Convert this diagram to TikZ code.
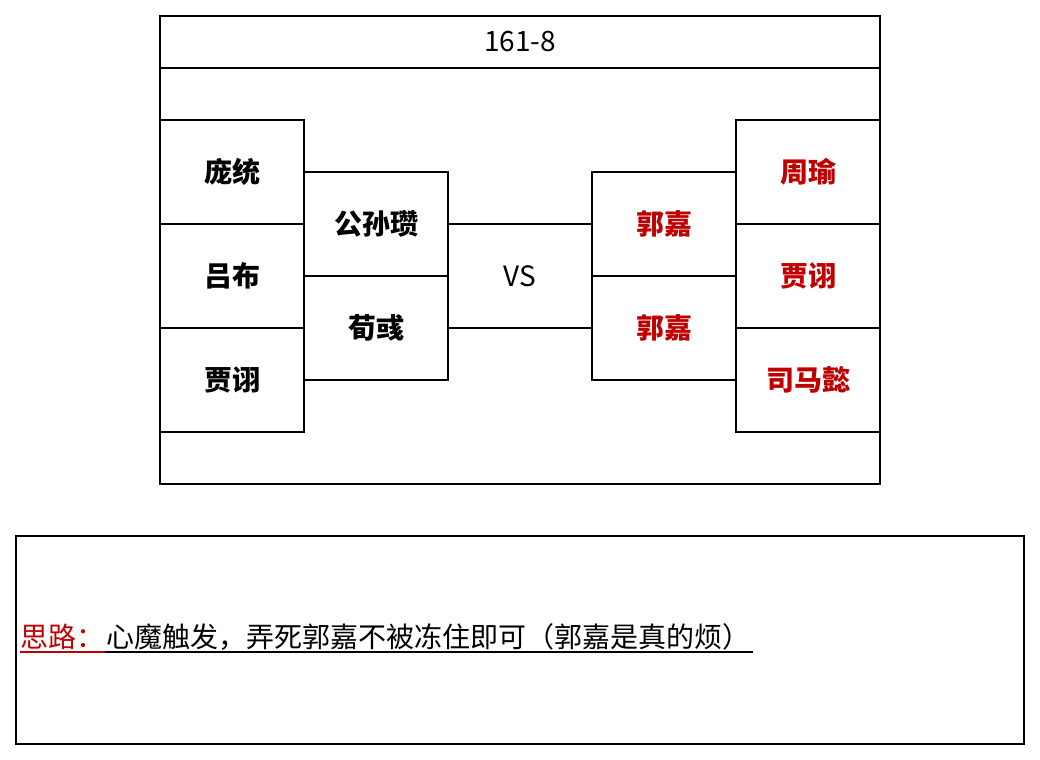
\documentclass[tikz,border=0pt]{standalone}
\usepackage{fontspec}
\setmainfont{Noto Sans CJK SC}
\usepackage{xcolor}
\usetikzlibrary{calc}
\definecolor{darkred}{RGB}{192,0,0}
\tikzset{
	hero/.style={draw, line width=1.1pt, minimum width=108pt, minimum height=78pt,
			inner sep=0pt, font=\fontsize{21}{21}\selectfont\bfseries},
	foe/.style={hero, text=darkred},
	plain/.style={inner sep=0pt, font=\fontsize{21}{21}\selectfont}
}
\begin{document}
\begin{tikzpicture}[x=0.75pt,y=-0.75pt,line width=1.1pt]
	\useasboundingbox (0,0) rectangle (1040,760);

	% frame and title
	\draw (160,16) rectangle (880,484);
	\draw (160,68) -- (880,68);
	\node[plain] (title) at (520,42) {161-8};

	% left side
	\node[hero] (pt) at (232,172) {庞统};
	\node[hero] (lb) at (232,276) {吕布};
	\node[hero] (jx) at (232,380) {贾诩};
	\node[hero] (gsz) at (376,224) {公孙瓒};
	\node[hero] (xy) at (376,328) {荀彧};

	% right side
	\node[foe] (gj1) at (664,224) {郭嘉};
	\node[foe] (gj2) at (664,328) {郭嘉};
	\node[foe] (zy) at (808,172) {周瑜};
	\node[foe] (jx2) at (808,276) {贾诩};
	\node[foe] (smy) at (808,380) {司马懿};

	% vs
	\draw (gsz.east) -- (gj1.west);
	\draw (xy.east) -- (gj2.west);
	\node[plain] (vs) at (520,276) {VS};

	% notes
	\draw (16,536) rectangle (1024,744);
	\node[plain, anchor=base west, text=darkred] (ideaA) at (20,647) {思路：};
	\node[plain, anchor=base west] (ideaB) at (ideaA.base east) {心魔触发，弄死郭嘉不被冻住即可（郭嘉是真的烦）};
	\draw[darkred] ($(ideaA.base west)+(0,5)$) -- ($(ideaA.base east)+(0,5)$);
	\draw ($(ideaA.base east)+(0,5)$) -- ($(ideaB.base east)+(2,5)$);
\end{tikzpicture}
\end{document}
